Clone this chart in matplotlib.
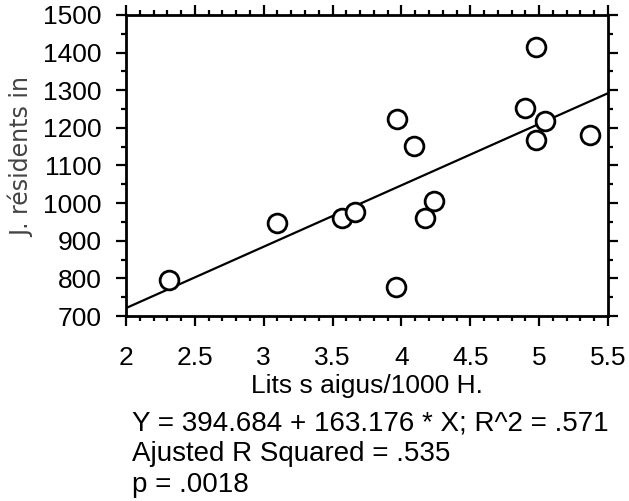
import matplotlib.pyplot as plt
from matplotlib.ticker import MultipleLocator

lits = [2.31, 3.10, 3.57, 3.66, 3.97, 3.96, 4.09, 4.17, 4.24, 4.90, 4.98, 5.04, 4.98, 5.37]
residents = [797, 948, 961, 976, 1223, 778, 1152, 961, 1005, 1252, 1416, 1218, 1168, 1182]

x_ticks = [2, 2.5, 3, 3.5, 4, 4.5, 5, 5.5]
x_labels = ["2", "2.5", "3", "3.5", "4", "4.5", "5", "5.5"]

intercept = 394.684
slope = 163.176
stats = ["Y = 394.684 + 163.176 * X; R^2 = .571",
         "Ajusted R Squared = .535",
         "p = .0018"]

plt.rcParams.update({"font.family": ["Liberation Sans", "DejaVu Sans"], "font.size": 19})

fig = plt.figure(figsize=(6.29, 5.01), dpi=100)
ax = fig.add_axes([126 / 629, 1 - 316 / 501, 482 / 629, 301 / 501])

x0, x1 = x_ticks[0], x_ticks[-1]
ax.plot([x0, x1], [intercept + slope * x0, intercept + slope * x1], color="black", lw=1.6)
ax.plot(lits, residents, "o", ms=13.5, mfc="white", mec="black", mew=2)

ax.set_xlim(x0, x1)
ax.set_ylim(700, 1500)
ax.set_xticks(x_ticks, x_labels)
ax.xaxis.set_minor_locator(MultipleLocator(0.1))
ax.yaxis.set_major_locator(MultipleLocator(100))
ax.yaxis.set_minor_locator(MultipleLocator(50))

for s in ax.spines.values():
    s.set_linewidth(2)
ax.tick_params(which="both", direction="out", top=True, right=True, width=1.6)
ax.tick_params(which="major", length=7.5)
ax.tick_params(which="minor", length=3.6)
ax.tick_params(axis="y", which="major", pad=10, labelsize=19)
ax.tick_params(axis="x", which="major", pad=14, labelsize=19)

ax.set_xlabel("Lits s aigus/1000 H.", fontsize=19, labelpad=3)
fig.text(21 / 629, 1 - 157 / 501, "J. résidents in", rotation=90, ha="center", va="center",
         fontsize=17, color="#444444", family="DejaVu Sans")

for i, line in enumerate(stats):
    fig.text(132 / 629, 1 - (430 + 31 * i) / 501, line, ha="left", va="baseline", fontsize=20)

fig.savefig("out.png", dpi=100)
